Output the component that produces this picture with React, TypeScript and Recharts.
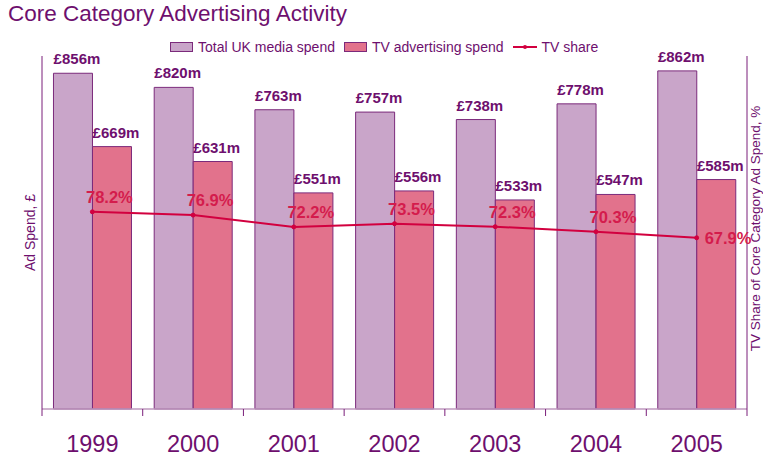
import React from "react";
import {
  ComposedChart,
  Bar,
  Line,
  XAxis,
  YAxis,
  LabelList,
  Label,
} from "recharts";

const YEARS = ["1999", "2000", "2001", "2002", "2003", "2004", "2005"];
const TOTAL_SPEND = [856, 820, 763, 757, 738, 778, 862];
const TV_SPEND = [669, 631, 551, 556, 533, 547, 585];
const TV_SHARE = [78.2, 76.9, 72.2, 73.5, 72.3, 70.3, 67.9];

const data = YEARS.map((year, i) => ({
  year,
  total: TOTAL_SPEND[i],
  tv: TV_SPEND[i],
  share: TV_SHARE[i],
}));

const W = 763;
const H = 457;
const X_AXIS_H = 48;
const Y_AXIS_W = 1;
const M = { top: 56, right: 15, left: 41, bottom: 0 };
const BAND = (W - M.left - M.right - 2 * Y_AXIS_W) / YEARS.length;

const PURPLE = "#6E0F6E";
const AXIS_DARK = "#7A1E7A";
const AXIS_LIGHT = "#BE98BE";
const TOTAL_FILL = "#C9A5C9";
const TV_FILL = "#E2728C";
const BAR_STROKE = "#7B2A7B";
const LINE_RED = "#D2003F";
const LABEL_RED = "#D41C4C";
const FONT = "'Liberation Sans', Arial, sans-serif";

const YearTick = (props: any) => {
  const { x, y, payload, index } = props;
  const half = BAND / 2;
  return (
    <g>
      <line x1={x - half} y1={y - 7} x2={x - half} y2={y} stroke={AXIS_DARK} strokeWidth={1} />
      {index === YEARS.length - 1 && (
        <line x1={x + half} y1={y - 7} x2={x + half} y2={y} stroke={AXIS_DARK} strokeWidth={1} />
      )}
      <text x={x} y={y + 36} textAnchor="middle" fill={PURPLE} fontSize={23.5} fontFamily={FONT}>
        {payload.value}
      </text>
    </g>
  );
};

const BarValueLabel = (props: any) => {
  const { x, y, width, value } = props;
  return (
    <text
      x={x + width / 2 + 4}
      y={y - 9}
      textAnchor="middle"
      fill={PURPLE}
      fontSize={15}
      fontWeight="bold"
      fontFamily={FONT}
    >
      {"£" + value + "m"}
    </text>
  );
};

const ShareLabel = (props: any) => {
  const { x, y, value, index } = props;
  const last = index === TV_SHARE.length - 1;
  return (
    <text
      x={last ? x + 8 : x + 17}
      y={last ? y + 6 : y - 9}
      textAnchor={last ? "start" : "middle"}
      fill={LABEL_RED}
      fontSize={16.5}
      fontWeight="bold"
      fontFamily={FONT}
    >
      {value + "%"}
    </text>
  );
};

const LegendBlock = () => {
  const item = (swatch: React.ReactNode, text: string) => (
    <div style={{ display: "flex", alignItems: "center", marginRight: 9 }}>
      {swatch}
      <span style={{ marginLeft: 5 }}>{text}</span>
    </div>
  );
  return (
    <div
      style={{
        position: "absolute",
        left: 170,
        top: 39,
        display: "flex",
        fontFamily: FONT,
        fontSize: 14,
        color: PURPLE,
        whiteSpace: "nowrap",
        lineHeight: "16px",
      }}
    >
      {item(
        <svg width={23} height={10}>
          <rect x={0.5} y={0.5} width={22} height={9} fill={TOTAL_FILL} stroke={BAR_STROKE} />
        </svg>,
        "Total UK media spend"
      )}
      {item(
        <svg width={23} height={10}>
          <rect x={0.5} y={0.5} width={22} height={9} fill={TV_FILL} stroke={BAR_STROKE} />
        </svg>,
        "TV advertising spend"
      )}
      {item(
        <svg width={24} height={10}>
          <line x1={0} y1={5} x2={24} y2={5} stroke={LINE_RED} strokeWidth={2} />
          <circle cx={12} cy={5} r={2} fill={LINE_RED} />
        </svg>,
        "TV share"
      )}
    </div>
  );
};

const LeftTitle = (props: any) => {
  const vb = props.viewBox;
  const cx = vb.x + vb.width - 12;
  const cy = vb.y + vb.height / 2;
  return (
    <text
      x={cx}
      y={cy}
      transform={`rotate(-90, ${cx}, ${cy})`}
      textAnchor="middle"
      dominantBaseline="central"
      fill={PURPLE}
      fontSize={14}
      fontFamily={FONT}
    >
      Ad Spend, £
    </text>
  );
};

const RightTitle = (props: any) => {
  const vb = props.viewBox;
  const cx = vb.x + 8;
  const cy = vb.y + vb.height / 2 - 4;
  return (
    <text
      x={cx}
      y={cy}
      transform={`rotate(-90, ${cx}, ${cy})`}
      textAnchor="middle"
      dominantBaseline="central"
      fill={PURPLE}
      fontSize={13.5}
      fontFamily={FONT}
    >
      TV Share of Core Category Ad Spend, %
    </text>
  );
};

export default function App() {
  return (
    <div style={{ position: "absolute", left: 0, top: 0, width: W, height: H, background: "#fff" }}>
      <div
        style={{
          position: "absolute",
          left: 8,
          top: 1,
          fontFamily: FONT,
          fontSize: 22.5,
          color: PURPLE,
          whiteSpace: "nowrap",
        }}
      >
        Core Category Advertising Activity
      </div>
      <LegendBlock />
      <ComposedChart
        width={W}
        height={H}
        data={data}
        margin={M}
        barCategoryGap="11.4%"
        barGap={0}
      >
        <XAxis
          dataKey="year"
          axisLine={{ stroke: AXIS_LIGHT, strokeWidth: 1.5 }}
          tickLine={false}
          tickSize={7}
          tickMargin={0}
          tick={<YearTick />}
          interval={0}
          height={X_AXIS_H}
        />
        <YAxis
          yAxisId="left"
          orientation="left"
          domain={[0, 900]}
          width={Y_AXIS_W}
          tick={false}
          tickLine={false}
          axisLine={{ stroke: AXIS_DARK }}
        >
          <Label content={<LeftTitle />} />
        </YAxis>
        <YAxis
          yAxisId="right"
          orientation="right"
          domain={[0, 140]}
          width={Y_AXIS_W}
          tick={false}
          tickLine={false}
          axisLine={{ stroke: AXIS_DARK }}
        >
          <Label content={<RightTitle />} />
        </YAxis>
        <Bar
          yAxisId="left"
          dataKey="total"
          name="Total UK media spend"
          fill={TOTAL_FILL}
          stroke={BAR_STROKE}
          strokeWidth={1}
          isAnimationActive={false}
        >
          <LabelList dataKey="total" content={<BarValueLabel />} />
        </Bar>
        <Bar
          yAxisId="left"
          dataKey="tv"
          name="TV advertising spend"
          fill={TV_FILL}
          stroke={BAR_STROKE}
          strokeWidth={1}
          isAnimationActive={false}
        >
          <LabelList dataKey="tv" content={<BarValueLabel />} />
        </Bar>
        <Line
          yAxisId="right"
          dataKey="share"
          name="TV share"
          stroke={LINE_RED}
          strokeWidth={2}
          dot={{ r: 2, fill: LINE_RED, stroke: LINE_RED, strokeWidth: 1 }}
          activeDot={false}
          isAnimationActive={false}
        >
          <LabelList dataKey="share" content={<ShareLabel />} />
        </Line>
      </ComposedChart>
    </div>
  );
}
